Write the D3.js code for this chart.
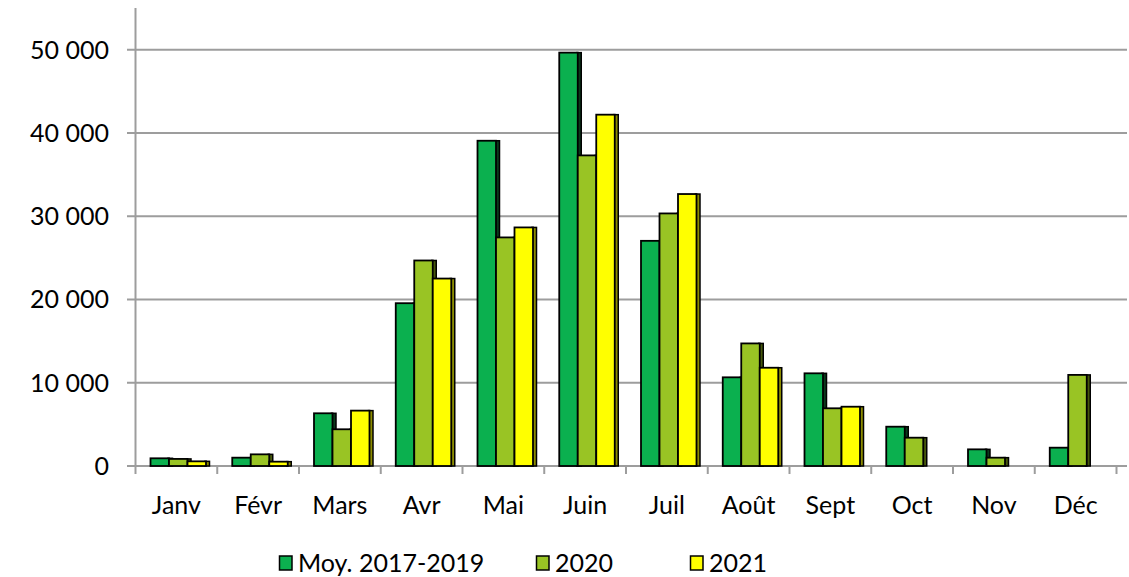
<!DOCTYPE html>
<html>
<head>
<meta charset="utf-8">
<script src="https://cdn.jsdelivr.net/npm/d3@7"></script>
<style>
  body { margin: 0; background: #fff; }
  text { font-family: Lato, "Open Sans", sans-serif; fill: #000; }
</style>
</head>
<body>
<div id="chart"></div>
<script>
// Monthly values
const months = ['Janv', 'Févr', 'Mars', 'Avr', 'Mai', 'Juin', 'Juil', 'Août', 'Sept', 'Oct', 'Nov', 'Déc'];
const seriesNames = ['Moy. 2017-2019', '2020', '2021'];
const moy = [925, 1000, 6330, 19550, 39060, 49640, 27040, 10650, 11130, 4720, 2000, 2200];
const y2020 = [850, 1400, 4410, 24680, 27450, 37300, 30330, 14720, 6930, 3400, 1000, 10940];
const y2021 = [560, 520, 6650, 22510, 28650, 42190, 32660, 11800, 7120, 0, 0, 0];
const yTicks = [0, 10000, 20000, 30000, 40000, 50000];

const colors = ['#0bb04f', '#99c424', '#ffff00'];
const sideColors = ['#0a3a1c', '#46580c', '#8c8c00'];
const seriesValues = [moy, y2020, y2021];

const W = 1129, H = 577;
const svg = d3.select('#chart').append('svg')
    .attr('width', W)
    .attr('height', H);

const x = d3.scaleBand().domain(months).range([135.5, 1116.5]).padding(0);
const x1 = d3.scaleBand().domain(seriesNames).range([15, 70.5]).padding(0);
const y = d3.scaleLinear().domain([0, 55000]).range([466, 8]);

const fr = d3.formatLocale({ decimal: ',', thousands: ' ', grouping: [3], currency: ['', ' €'] });
const fmt = fr.format(',d');

// gridlines
svg.append('g')
    .selectAll('line')
    .data(yTicks)
    .enter().append('line')
    .attr('x1', 127)
    .attr('x2', 1127)
    .attr('y1', d => y(d))
    .attr('y2', d => y(d))
    .style('stroke', '#9d9d9d')
    .style('stroke-width', 2);

// y axis line
svg.append('line')
    .attr('x1', 135.5).attr('x2', 135.5)
    .attr('y1', y(55000)).attr('y2', 474)
    .style('stroke', '#9d9d9d')
    .style('stroke-width', 2);

// category tick marks
const bounds = months.map(m => x(m)).concat([x.range()[1]]);
svg.append('g')
    .selectAll('line')
    .data(bounds.slice(1))
    .enter().append('line')
    .attr('x1', d => d).attr('x2', d => d)
    .attr('y1', y(0)).attr('y2', 474)
    .style('stroke', '#9d9d9d')
    .style('stroke-width', 2);

// y labels
svg.append('g')
    .selectAll('text')
    .data(yTicks)
    .enter().append('text')
    .attr('x', 109)
    .attr('y', d => y(d))
    .attr('dy', '0.36em')
    .attr('text-anchor', 'end')
    .style('font-size', '25px')
    .text(d => fmt(d));

// x labels
svg.append('g')
    .selectAll('text')
    .data(months)
    .enter().append('text')
    .attr('x', d => x(d) + x.bandwidth() / 2)
    .attr('y', 514)
    .attr('text-anchor', 'middle')
    .style('font-size', '25px')
    .text(d => d);

// bars: per month, series in order so later fronts cover earlier sides
const bars = svg.append('g');
months.forEach((m, i) => {
    seriesNames.forEach((s, k) => {
        const v = seriesValues[k][i];
        if (!v) return;
        const bx = x(m) + x1(s);
        const bw = x1.bandwidth();
        bars.append('rect')
            .attr('x', bx + bw - 1)
            .attr('y', y(v))
            .attr('width', 4.5)
            .attr('height', y(0) - y(v))
            .style('fill', sideColors[k])
            .style('stroke', '#000')
            .style('stroke-width', 1.5);
        bars.append('rect')
            .attr('x', bx)
            .attr('y', y(v))
            .attr('width', bw)
            .attr('height', y(0) - y(v))
            .style('fill', colors[k])
            .style('stroke', '#000')
            .style('stroke-width', 1.8);
    });
});

// legend
const legendX = [279.5, 536.5, 690.5];
const legend = svg.append('g')
    .selectAll('g')
    .data(seriesNames)
    .enter().append('g')
    .attr('transform', (d, i) => `translate(${legendX[i]},556)`);
legend.append('rect')
    .attr('width', 12.5)
    .attr('height', 14)
    .style('fill', (d, i) => colors[i])
    .style('stroke', '#000')
    .style('stroke-width', 1.5);
legend.append('text')
    .attr('x', 18.5)
    .attr('y', 16)
    .style('font-size', '25px')
    .text(d => d);
</script>
</body>
</html>
